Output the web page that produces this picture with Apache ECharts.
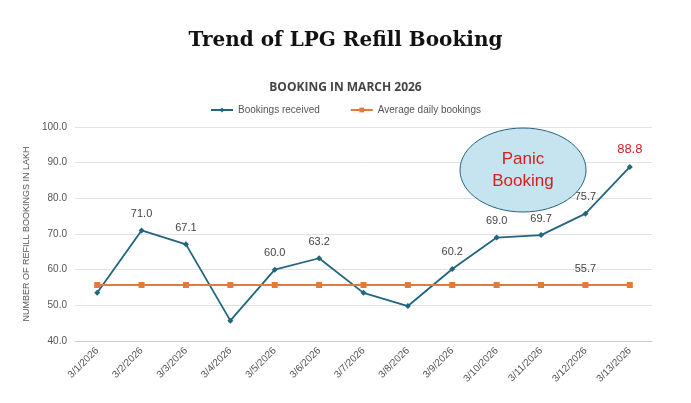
<!DOCTYPE html>
<html><head><meta charset="utf-8">
<script src="https://cdn.jsdelivr.net/npm/echarts@6/dist/echarts.min.js"></script>
<style>html,body{margin:0;background:#fff}#c{width:691px;height:403px}</style>
</head><body><div id="c"></div>
<script>
const categories=['3/1/2026','3/2/2026','3/3/2026','3/4/2026','3/5/2026','3/6/2026','3/7/2026','3/8/2026','3/9/2026','3/10/2026','3/11/2026','3/12/2026','3/13/2026'];
const bookings=[53.5,71.0,67.1,45.7,60.0,63.2,53.5,49.8,60.2,69.0,69.7,75.7,88.8];
const showBookingLabel=[false,true,true,false,true,true,false,false,true,true,true,true,true];
const average=[55.7,55.7,55.7,55.7,55.7,55.7,55.7,55.7,55.7,55.7,55.7,55.7,55.7];
const avgLabelIndex=11;
const chart=echarts.init(document.getElementById('c'));
chart.setOption({
  animation:false,
  title:[{text:'Trend of LPG Refill Booking',left:'center',top:26,textStyle:{fontFamily:'DejaVu Serif',fontWeight:'bold',fontSize:20,color:'#111'}},
         {text:'BOOKING IN MARCH 2026',left:'center',top:77,textStyle:{fontFamily:'Open Sans',fontWeight:'bold',fontSize:12,color:'#444'}}],
  legend:{top:100,left:'center',itemGap:30,itemWidth:22,itemHeight:6,textStyle:{fontSize:10,color:'#555'},
    data:[{name:'Bookings received'},{name:'Average daily bookings'}]},
  grid:{left:75,right:39,top:127,bottom:62},
  xAxis:{type:'category',data:categories,axisTick:{show:false},
    axisLine:{lineStyle:{color:'#ccc'}},axisLabel:{rotate:45,fontSize:10,color:'#555',margin:8}},
  yAxis:{type:'value',min:40,max:100,interval:10,
    name:'NUMBER OF REFILL BOOKINGS IN LAKH',nameLocation:'middle',nameGap:44,nameTextStyle:{fontSize:9,color:'#555'},
    axisLabel:{formatter:v=>v.toFixed(1),fontSize:10,color:'#555'},
    splitLine:{lineStyle:{color:'#e2e2e2'}}},
  series:[
    {name:'Bookings received',type:'line',data:bookings.map((v,i)=>({value:v,label:{show:showBookingLabel[i],
        color:i===12?'#d62020':'#444',fontSize:i===12?13:11}})),
      symbol:'diamond',symbolSize:6,itemStyle:{color:'#22657f'},lineStyle:{color:'#22657f',width:1.8},
      label:{position:'top',formatter:p=>p.value.toFixed(1),distance:8},z:3},
    {name:'Average daily bookings',type:'line',data:average.map((v,i)=>({value:v,label:{show:i===avgLabelIndex}})),
      symbol:'rect',symbolSize:6,itemStyle:{color:'#e07b39'},lineStyle:{color:'#e07b39',width:1.8},
      label:{position:'top',formatter:p=>p.value.toFixed(1),color:'#444',fontSize:11,distance:8}}
  ],
  graphic:[{type:'ellipse',shape:{cx:523,cy:170,rx:63,ry:42},style:{fill:'#c6e4f0',stroke:'#22657f',lineWidth:1},z:10},
    {type:'text',x:523,y:170,style:{text:'Panic\nBooking',fill:'#d62020',fontSize:17,align:'center',verticalAlign:'middle',lineHeight:22},z:11}]
});
</script></body></html>
